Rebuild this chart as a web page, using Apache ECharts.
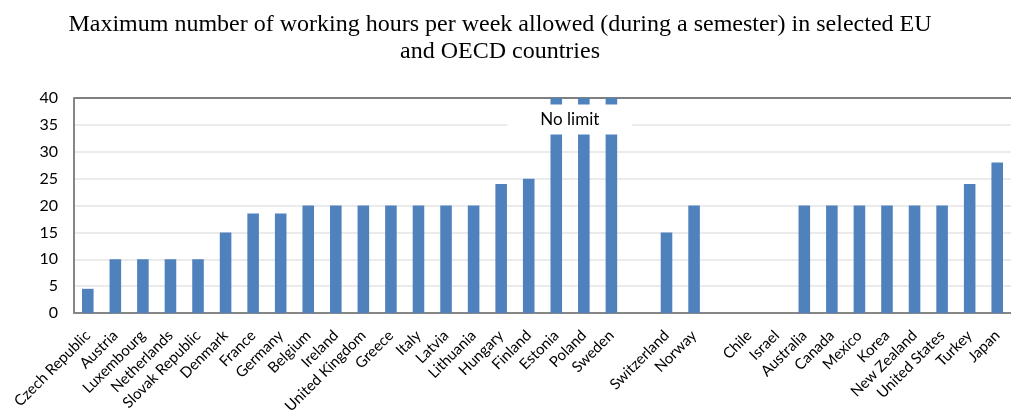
<!DOCTYPE html>
<html>
<head>
<meta charset="utf-8">
<script src="https://cdn.jsdelivr.net/npm/echarts@6/dist/echarts.min.js"></script>
<style>
  html, body { margin: 0; padding: 0; background: #fff; }
  #chart { width: 1011px; height: 411px; }
</style>
</head>
<body>
<div id="chart"></div>
<script>
// Countries in plotting order; blank entries separate the groups.
const countries = [
  'Czech Republic', 'Austria', 'Luxembourg', 'Netherlands', 'Slovak Republic',
  'Denmark', 'France', 'Germany', 'Belgium', 'Ireland', 'United Kingdom',
  'Greece', 'Italy', 'Latvia', 'Lithuania', 'Hungary', 'Finland',
  'Estonia', 'Poland', 'Sweden', ' ',
  'Switzerland', 'Norway', '  ',
  'Chile', 'Israel', 'Australia', 'Canada', 'Mexico', 'Korea',
  'New Zealand', 'United States', 'Turkey', 'Japan'
];

// Maximum weekly working hours; countries without a limit are drawn at the axis top (40).
const hours = [
  4.5, 10, 10, 10, 10,
  15, 18.5, 18.5, 20, 20, 20,
  20, 20, 20, 20, 24, 25,
  40, 40, 40, null,
  15, 20, null,
  null, null, 20, 20, 20, 20,
  20, 20, 24, 28
];

const yTicks = { min: 0, max: 40, interval: 5 };
const noLimitText = 'No limit';
const noLimitAnchor = 'Poland';

const chart = echarts.init(document.getElementById('chart'), null, { renderer: 'canvas' });

// Light gridlines, with a darker line closing the plot at the top
const gridColors = ['#e4e4e4', '#e4e4e4', '#e4e4e4', '#e4e4e4', '#e4e4e4', '#e4e4e4', '#e4e4e4', '#e4e4e4', '#555555'];

chart.setOption({
  animation: false,
  backgroundColor: '#fff',
  title: {
    text: 'Maximum number of working hours per week allowed (during a semester) in selected EU\nand OECD countries',
    left: 495,
    top: 6,
    textAlign: 'center',
    textStyle: {
      fontFamily: 'Liberation Serif',
      fontSize: 24,
      fontWeight: 'normal',
      color: '#000',
      lineHeight: 27
    }
  },
  grid: { left: 74, right: 0, top: 98, bottom: 98, containLabel: false, outerBoundsMode: 'none' },
  xAxis: {
    type: 'category',
    data: countries,
    axisLine: { show: true, lineStyle: { color: '#868686', width: 2 } },
    axisTick: { show: false },
    axisLabel: {
      interval: 0,
      rotate: 45,
      margin: 20,
      fontFamily: 'Lato',
      fontSize: 15,
      color: '#000'
    }
  },
  yAxis: {
    type: 'value',
    min: yTicks.min,
    max: yTicks.max,
    interval: yTicks.interval,
    axisLine: { show: true, lineStyle: { color: '#868686', width: 2 } },
    axisTick: { show: false },
    axisLabel: { margin: 16, fontFamily: 'Lato', fontSize: 16, color: '#000' },
    splitLine: { show: true, lineStyle: { color: gridColors, width: 1.5 } }
  },
  series: [
    {
      type: 'bar',
      data: hours,
      barWidth: '42%',
      itemStyle: { color: '#4f81bd' }
    },
    {
      // White label box across the three unlimited countries
      type: 'scatter',
      z: 10,
      symbolSize: 0,
      silent: true,
      itemStyle: { opacity: 1 },
      data: [[noLimitAnchor, 36]],
      label: {
        show: true,
        position: 'inside',
        offset: [-14, 0],
        formatter: noLimitText,
        backgroundColor: '#fff',
        width: 125,
        height: 30,
        lineHeight: 30,
        align: 'center',
        verticalAlign: 'middle',
        fontFamily: 'Lato',
        fontSize: 17,
        color: '#000'
      }
    }
  ]
});
</script>
</body>
</html>
